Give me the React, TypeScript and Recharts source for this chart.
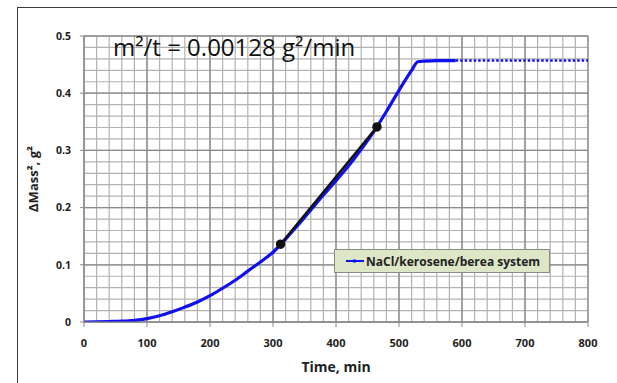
import React from "react";
import { LineChart, Line, XAxis, YAxis, CartesianGrid, Legend, ReferenceLine } from "recharts";

const timeMin = [0, 20, 40, 60, 80, 100, 120, 140, 160, 180, 200, 220, 240, 260, 280, 300, 320, 340, 360, 380, 400, 420, 440, 460, 480, 500, 520, 530, 540, 560, 590];
const massSq = [0, 0.0003, 0.0008, 0.0015, 0.003, 0.006, 0.011, 0.018, 0.026, 0.035, 0.046, 0.059, 0.073, 0.089, 0.105, 0.122, 0.145, 0.17, 0.196, 0.222, 0.247, 0.273, 0.302, 0.333, 0.368, 0.405, 0.44, 0.455, 0.456, 0.457, 0.457];
const tailTime = [590, 800];
const tailMass = [0.457, 0.457];
const fitTime = [312, 465];
const fitMass = [0.136, 0.341];

const xTicks = [0, 100, 200, 300, 400, 500, 600, 700, 800];
const yTicks = [0, 0.1, 0.2, 0.3, 0.4, 0.5];
const xMinor = [0, 20, 40, 60, 80, 100, 120, 140, 160, 180, 200, 220, 240, 260, 280, 300, 320, 340, 360, 380, 400, 420, 440, 460, 480, 500, 520, 540, 560, 580, 600, 620, 640, 660, 680, 700, 720, 740, 760, 780, 800];
const yMinor = [0, 0.02, 0.04, 0.06, 0.08, 0.1, 0.12, 0.14, 0.16, 0.18, 0.2, 0.22, 0.24, 0.26, 0.28, 0.3, 0.32, 0.34, 0.36, 0.38, 0.4, 0.42, 0.44, 0.46, 0.48, 0.5];

const mainData = timeMin.map((t, i) => ({ t, v: massSq[i] }));
const tailData = tailTime.map((t, i) => ({ t, v: tailMass[i] }));
const fitData = fitTime.map((t, i) => ({ t, v: fitMass[i] }));

const FONT = "'Open Sans', 'Liberation Sans', sans-serif";

const LegendBox = () => (
  <div
    style={{
      width: 214,
      height: 22,
      background: "#dde6c6",
      border: "1px solid #8a8a80",
      display: "flex",
      alignItems: "center",
      fontFamily: FONT,
      fontWeight: 700,
      fontSize: 12,
      color: "#222",
      boxSizing: "content-box",
    }}
  >
    <svg width={20} height={10} style={{ marginLeft: 11 }}>
      <line x1={0} y1={5} x2={18} y2={5} stroke="#1010ee" strokeWidth={2} />
      <rect x={7} y={3.5} width={3} height={3} fill="#1010ee" />
    </svg>
    <span style={{ marginLeft: 0 }}>NaCl/kerosene/berea system</span>
  </div>
);

export default function App() {
  return (
    <div style={{ position: "absolute", left: 0, top: 0, width: 617, height: 383, overflow: "hidden", background: "#fff" }}>
      <div
        style={{
          position: "absolute",
          left: 17,
          top: 7,
          width: 700,
          height: 400,
          borderTop: "1.5px solid #3a3a3a",
          borderLeft: "1.5px solid #3a3a3a",
        }}
      />
      <LineChart
        width={617}
        height={383}
        margin={{ top: 36, right: 29, bottom: 31, left: 34 }}
        style={{ position: "absolute", left: 0, top: 0 }}
      >
        <CartesianGrid xAxisId="minor" yAxisId="minor" stroke="#b2b2b2" strokeWidth={1.2} />
        <XAxis
          xAxisId="minor"
          dataKey="t"
          type="number"
          domain={[0, 800]}
          ticks={xMinor}
          interval={0}
          allowDataOverflow
          hide
        />
        <YAxis
          yAxisId="minor"
          dataKey="v"
          type="number"
          domain={[0, 0.5]}
          ticks={yMinor}
          interval={0}
          allowDataOverflow
          hide
        />
        <XAxis
          dataKey="t"
          type="number"
          domain={[0, 800]}
          ticks={xTicks}
          interval={0}
          allowDataOverflow
          height={30}
          tickSize={5}
          tickMargin={12}
          axisLine={{ stroke: "#8a8a8a" }}
          tickLine={{ stroke: "#8a8a8a" }}
          tick={{ fontFamily: FONT, fontWeight: 700, fontSize: 11, fill: "#222" }}
          label={{
            value: "Time, min",
            position: "bottom",
            offset: 10,
            style: { fontFamily: FONT, fontWeight: 700, fontSize: 14, fill: "#222" },
          }}
        />
        <YAxis
          dataKey="v"
          type="number"
          domain={[0, 0.5]}
          ticks={yTicks}
          interval={0}
          allowDataOverflow
          width={50}
          tickSize={4}
          tickMargin={9}
          axisLine={{ stroke: "#8a8a8a" }}
          tickLine={{ stroke: "#8a8a8a" }}
          tickFormatter={(v: number) => (v === 0 ? "0" : String(v))}
          tick={{ fontFamily: FONT, fontWeight: 700, fontSize: 10.5, fill: "#222" }}
          label={{
            value: "ΔMass², g²",
            angle: -90,
            position: "insideLeft",
            offset: 0,
            dx: -1,
            style: { fontFamily: FONT, fontWeight: 700, fontSize: 13, fill: "#222", textAnchor: "middle" },
          }}
        />
        {xTicks.map((x) => (
          <ReferenceLine key={"mx" + x} x={x} stroke="#8a8a8a" strokeWidth={1.3} ifOverflow="visible" />
        ))}
        {yTicks.map((y) => (
          <ReferenceLine key={"my" + y} y={y} stroke="#8a8a8a" strokeWidth={1.3} ifOverflow="visible" />
        ))}
        <Legend
          layout="vertical"
          align="center"
          verticalAlign="middle"
          content={<LegendBox />}
          wrapperStyle={{ position: "absolute", left: 334, top: 249, width: 216, height: 24 }}
        />
        <Line
          data={mainData}
          dataKey="v"
          name="NaCl/kerosene/berea system"
          stroke="#1010ee"
          strokeWidth={3.2}
          dot={false}
          type="monotone"
          isAnimationActive={false}
        />
        <Line
          data={tailData}
          dataKey="v"
          legendType="none"
          stroke="#1010ee"
          strokeWidth={2.5}
          strokeDasharray="2.5 2"
          dot={false}
          type="linear"
          isAnimationActive={false}
        />
        <Line
          data={fitData}
          dataKey="v"
          legendType="none"
          stroke="#111"
          strokeWidth={2.5}
          dot={{ r: 3.5, fill: "#111", stroke: "#111" }}
          type="linear"
          isAnimationActive={false}
        />
      </LineChart>
      <div
        style={{
          position: "absolute",
          left: 113,
          top: 33,
          fontFamily: FONT,
          fontSize: 24,
          color: "#111",
          whiteSpace: "nowrap",
          lineHeight: "28px",
        }}
      >
        m²/t = 0.00128 g²/min
      </div>
    </div>
  );
}
